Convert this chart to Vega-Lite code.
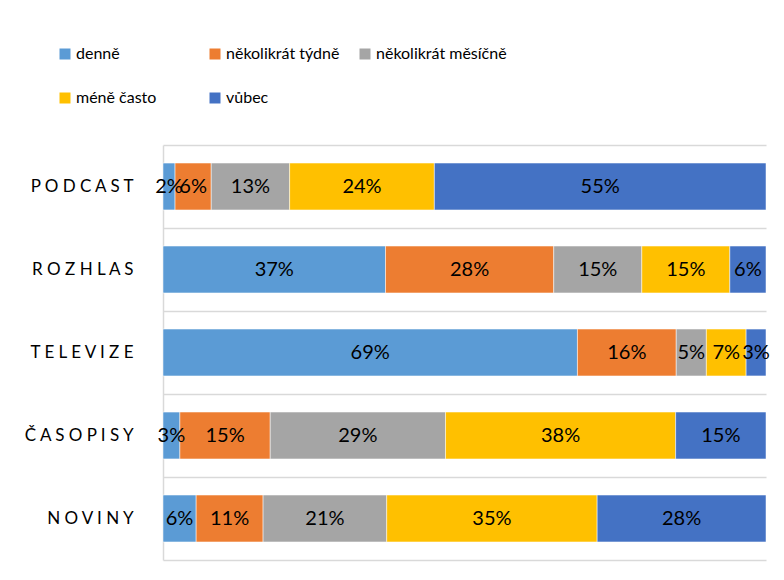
{
  "$schema": "https://vega.github.io/schema/vega-lite/v6.json",
  "width": 603,
  "height": 415,
  "autosize": {"type": "none"},
  "padding": {"left": 163, "top": 145, "right": 18, "bottom": 20},
  "background": "white",
  "config": {"view": {"stroke": null}, "font": "Lato"},
  "data": {
    "values": [
      {"media": "PODCAST", "freq": "denně", "v": 2.0},
      {"media": "PODCAST", "freq": "několikrát týdně", "v": 6.0},
      {"media": "PODCAST", "freq": "několikrát měsíčně", "v": 13.0},
      {"media": "PODCAST", "freq": "méně často", "v": 24.0},
      {"media": "PODCAST", "freq": "vůbec", "v": 55.0},
      {"media": "ROZHLAS", "freq": "denně", "v": 36.9},
      {"media": "ROZHLAS", "freq": "několikrát týdně", "v": 27.9},
      {"media": "ROZHLAS", "freq": "několikrát měsíčně", "v": 14.6},
      {"media": "ROZHLAS", "freq": "méně často", "v": 14.6},
      {"media": "ROZHLAS", "freq": "vůbec", "v": 6.0},
      {"media": "TELEVIZE", "freq": "denně", "v": 68.8},
      {"media": "TELEVIZE", "freq": "několikrát týdně", "v": 16.4},
      {"media": "TELEVIZE", "freq": "několikrát měsíčně", "v": 5.0},
      {"media": "TELEVIZE", "freq": "méně často", "v": 6.6},
      {"media": "TELEVIZE", "freq": "vůbec", "v": 3.3},
      {"media": "ČASOPISY", "freq": "denně", "v": 2.8},
      {"media": "ČASOPISY", "freq": "několikrát týdně", "v": 15.0},
      {"media": "ČASOPISY", "freq": "několikrát měsíčně", "v": 29.1},
      {"media": "ČASOPISY", "freq": "méně často", "v": 38.2},
      {"media": "ČASOPISY", "freq": "vůbec", "v": 15.0},
      {"media": "NOVINY", "freq": "denně", "v": 5.5},
      {"media": "NOVINY", "freq": "několikrát týdně", "v": 11.1},
      {"media": "NOVINY", "freq": "několikrát měsíčně", "v": 20.5},
      {"media": "NOVINY", "freq": "méně často", "v": 34.9},
      {"media": "NOVINY", "freq": "vůbec", "v": 28.0}
    ]
  },
  "transform": [
    {"calculate": "indexof(['denně','několikrát týdně','několikrát měsíčně','méně často','vůbec'], datum.freq)", "as": "o"},
    {"stack": "v", "groupby": ["media"], "sort": [{"field": "o"}], "as": ["v0", "v1"], "offset": "normalize"},
    {"calculate": "(datum.v0 + datum.v1) / 2", "as": "mid"},
    {"calculate": "format(datum.v, '.0f') + '%'", "as": "lbl"}
  ],
  "encoding": {
    "y": {
      "field": "media",
      "type": "nominal",
      "sort": ["PODCAST", "ROZHLAS", "TELEVIZE", "ČASOPISY", "NOVINY"],
      "scale": {"paddingInner": 0, "paddingOuter": 0},
      "axis": {
        "title": null,
        "domain": true,
        "domainColor": "#d9d9d9",
        "domainWidth": 1.5,
        "ticks": false,
        "grid": true,
        "gridColor": "#d9d9d9",
        "gridWidth": 1.5,
        "bandPosition": 0,
        "labelPadding": 30,
        "labelFontSize": 17,
        "labelColor": "#000000",
        "labelExpr": "join(split(datum.label, ''), ' ')"
      }
    }
  },
  "layer": [
    {
      "mark": {"type": "bar", "stroke": "white", "strokeWidth": 0.5, "height": {"band": 0.565}},
      "encoding": {
        "x": {
          "field": "v0",
          "type": "quantitative",
          "scale": {"domain": [0, 1], "nice": false},
          "axis": {"title": null, "labels": false, "ticks": false, "grid": false, "domain": true, "domainColor": "#d9d9d9", "domainWidth": 1.5}
        },
        "x2": {"field": "v1"},
        "color": {
          "field": "freq",
          "type": "nominal",
          "scale": {
            "domain": ["denně", "několikrát týdně", "několikrát měsíčně", "méně často", "vůbec"],
            "range": ["#5B9BD5", "#ED7D31", "#A5A5A5", "#FFC000", "#4472C4"]
          },
          "legend": {
            "title": null,
            "orient": "none",
            "legendX": -106,
            "legendY": -99,
            "direction": "horizontal",
            "columns": 3,
            "gridAlign": "all",
            "columnPadding": -6,
            "rowPadding": 28,
            "symbolType": "square",
            "symbolSize": 121,
            "symbolStrokeWidth": 0,
            "symbolOpacity": 1,
            "labelFontSize": 16,
            "labelColor": "#000000",
            "labelOffset": 3,
            "labelLimit": 300
          }
        }
      }
    },
    {
      "mark": {"type": "text", "fontSize": 20, "color": "#000000"},
      "encoding": {
        "x": {"field": "mid", "type": "quantitative"},
        "text": {"field": "lbl"}
      }
    }
  ]
}
